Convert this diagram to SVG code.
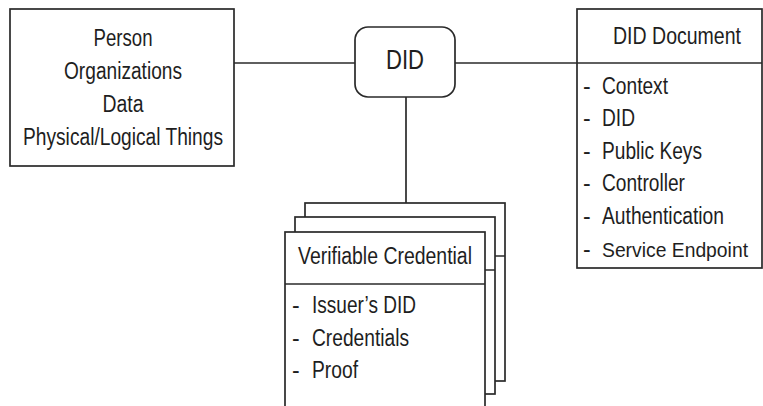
<svg xmlns="http://www.w3.org/2000/svg" width="763" height="406" viewBox="0 0 763 406">
  <style>
    .box { fill: #ffffff; stroke: #2a2a2a; stroke-width: 1.7; }
    .line { fill: none; stroke: #2a2a2a; stroke-width: 1.7; }
    .txt { font-family: "Liberation Sans", Arial, sans-serif; fill: #1e1e1e; font-size: 23px; }
    .did { font-size: 28px; }
    .small { font-size: 21px; }
  </style>
  <rect width="763" height="406" fill="#ffffff"/>

  <!-- connectors -->
  <g id="connectors">
    <line class="line" x1="234" y1="63" x2="355" y2="63"/>
    <line class="line" x1="455" y1="63" x2="577" y2="63"/>
    <line class="line" x1="406" y1="97" x2="406" y2="203"/>
  </g>

  <!-- subject entities -->
  <g id="subjects">
    <rect class="box" x="10" y="9" width="224" height="157"/>
    <g class="txt" text-anchor="middle">
      <text x="123" y="46" textLength="59" lengthAdjust="spacingAndGlyphs">Person</text>
      <text x="123" y="79" textLength="118" lengthAdjust="spacingAndGlyphs">Organizations</text>
      <text x="123" y="112" textLength="41" lengthAdjust="spacingAndGlyphs">Data</text>
      <text x="123" y="145" textLength="200" lengthAdjust="spacingAndGlyphs">Physical/Logical Things</text>
    </g>
  </g>

  <!-- identifier -->
  <g id="did">
    <rect class="box" x="355" y="27" width="100" height="70" rx="13" ry="13"/>
    <text class="txt did" x="405" y="69" text-anchor="middle" textLength="38" lengthAdjust="spacingAndGlyphs">DID</text>
  </g>

  <!-- DID document -->
  <g id="did-document">
    <rect class="box" x="577" y="9" width="185" height="259"/>
    <line class="line" x1="577" y1="63" x2="762" y2="63"/>
    <text class="txt" x="613" y="44" textLength="128" lengthAdjust="spacingAndGlyphs">DID Document</text>
    <g class="txt">
      <text x="583" y="93.5">-</text><text x="602" y="93.5" textLength="66" lengthAdjust="spacingAndGlyphs">Context</text>
      <text x="583" y="126">-</text><text x="602" y="126" textLength="33" lengthAdjust="spacingAndGlyphs">DID</text>
      <text x="583" y="158.5">-</text><text x="602" y="158.5" textLength="100" lengthAdjust="spacingAndGlyphs">Public Keys</text>
      <text x="583" y="191">-</text><text x="602" y="191" textLength="83" lengthAdjust="spacingAndGlyphs">Controller</text>
      <text x="583" y="224">-</text><text x="602" y="224" textLength="122" lengthAdjust="spacingAndGlyphs">Authentication</text>
      <text x="583" y="257">-</text><text class="small" x="602" y="257" textLength="146" lengthAdjust="spacingAndGlyphs">Service Endpoint</text>
    </g>
  </g>

  <!-- stack of verifiable credentials -->
  <g id="credential-back">
    <rect class="box" x="305" y="203" width="200" height="178"/>
    <line class="line" x1="305" y1="256" x2="505" y2="256"/>
  </g>
  <g id="credential-middle">
    <rect class="box" x="295" y="217" width="200" height="177"/>
    <line class="line" x1="295" y1="270" x2="495" y2="270"/>
  </g>
  <g id="credential-front">
    <rect class="box" x="285" y="232" width="200" height="180"/>
    <line class="line" x1="285" y1="284" x2="485" y2="284"/>
    <text class="txt" x="298" y="264" textLength="174" lengthAdjust="spacingAndGlyphs">Verifiable Credential</text>
    <g class="txt">
      <text x="292" y="313">-</text><text x="312" y="313" textLength="104" lengthAdjust="spacingAndGlyphs">Issuer’s DID</text>
      <text x="292" y="346">-</text><text x="312" y="346" textLength="97" lengthAdjust="spacingAndGlyphs">Credentials</text>
      <text x="292" y="378">-</text><text x="312" y="378" textLength="46" lengthAdjust="spacingAndGlyphs">Proof</text>
    </g>
  </g>
</svg>
